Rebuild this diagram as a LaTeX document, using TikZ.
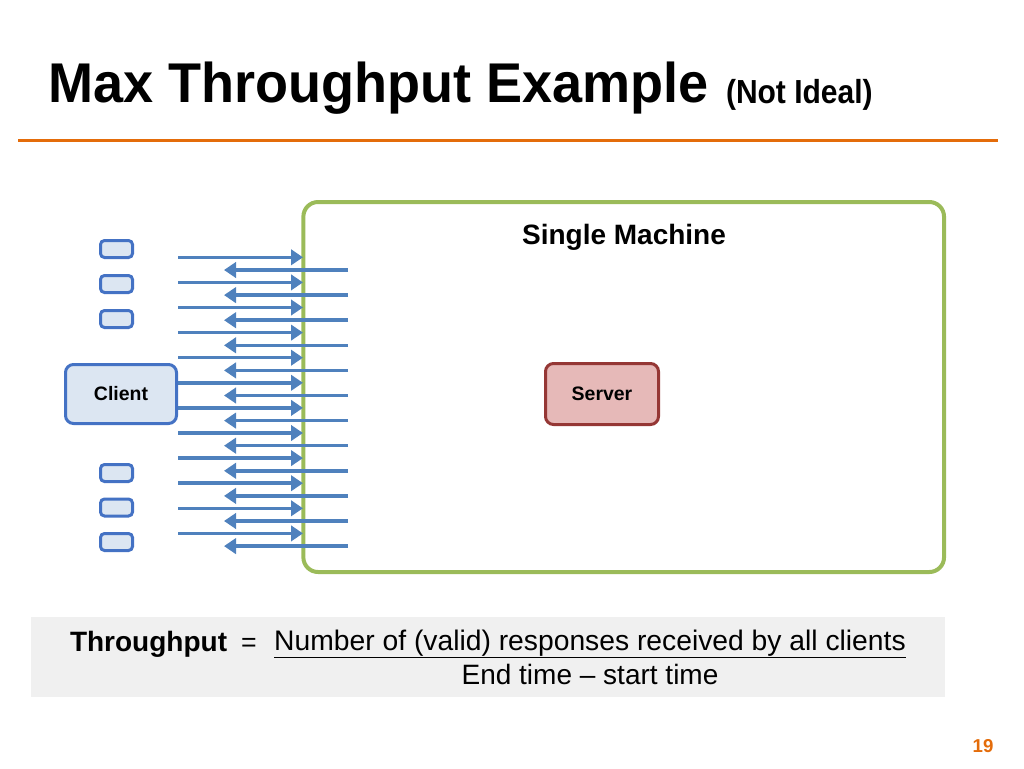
\documentclass[tikz,border=0pt]{standalone}
\usepackage{fontspec}
\setmainfont{Liberation Sans}
\usetikzlibrary{arrows.meta}
\definecolor{orangeline}{RGB}{228,108,10}
\definecolor{arrowblue}{RGB}{79,129,189}
\definecolor{boxblue}{RGB}{68,114,196}
\definecolor{boxfill}{RGB}{220,230,242}
\definecolor{machgreen}{RGB}{155,187,89}
\definecolor{srvfill}{RGB}{230,185,184}
\definecolor{srvborder}{RGB}{149,55,53}
\definecolor{panelgray}{RGB}{240,240,240}
\begin{document}
\begin{tikzpicture}[x=0.75pt,y=-0.75pt,
  reqarrow/.style={draw=arrowblue, line width=2.6pt, -{Triangle[length=9pt,width=11.5pt]}},
  machine/.style={draw=machgreen, line width=3pt, rounded corners=11pt, minimum width=480.5pt, minimum height=277.5pt, inner sep=0pt},
  clientbox/.style={draw=boxblue, fill=boxfill, line width=2.25pt, rounded corners=6pt, minimum width=83.25pt, minimum height=44.25pt, inner sep=0pt, font=\fontsize{14.6pt}{17pt}\selectfont\bfseries},
  serverbox/.style={draw=srvborder, fill=srvfill, line width=2.25pt, rounded corners=6pt, minimum width=84.75pt, minimum height=45.75pt, inner sep=0pt, font=\fontsize{14.6pt}{17pt}\selectfont\bfseries},
  minibox/.style={draw=boxblue, fill=boxfill, line width=2.25pt, rounded corners=3pt, minimum width=24pt, minimum height=12.75pt, inner sep=0pt},
  txt/.style={inner sep=0pt, outer sep=0pt},
  panel/.style={fill=panelgray, inner sep=0pt, minimum width=685.5pt, minimum height=60pt}
]
\useasboundingbox (0,0) rectangle (1024,768);

% title
\node[txt, anchor=base west] (title) at (48,102)
  {\scalebox{0.965}[1]{\fontsize{42pt}{48pt}\selectfont\bfseries Max Throughput Example}};
\node[txt, anchor=base west] (subtitle) at (726,103)
  {\scalebox{0.9}[1]{\fontsize{25pt}{29pt}\selectfont\bfseries (Not Ideal)}};
\coordinate (rulel) at (18,140);
\coordinate (ruler) at (998,140);
\draw[orangeline, line width=2.25pt] (rulel) -- (ruler);

% machine
\node[machine] (machine) at (623.7,387) {};
\node[txt, anchor=base, font=\fontsize{21pt}{25pt}\selectfont\bfseries] (machlabel) at (624,244) {Single Machine};

% arrows
\foreach \i in {0,...,11} {
  \coordinate (rs\i) at (178,257.3+25.1*\i);
  \coordinate (re\i) at (303,257.3+25.1*\i);
  \coordinate (ls\i) at (348,270+25.1*\i);
  \coordinate (le\i) at (224,270+25.1*\i);
  \draw[reqarrow] (rs\i) -- (re\i);
  \draw[reqarrow] (ls\i) -- (le\i);
}

% client and server
\node[clientbox] (client) at (121,394) {Client};
\node[serverbox] (server) at (602,394) {Server};

% small client boxes
\node[minibox] (c1) at (116.5,249) {};
\node[minibox] (c2) at (116.5,284) {};
\node[minibox] (c3) at (116.5,319) {};
\node[minibox] (c4) at (116.5,473) {};
\node[minibox] (c5) at (116.5,507.5) {};
\node[minibox] (c6) at (116.5,542) {};

% formula panel
\node[panel] (panel) at (488,657) {};
\node[txt, anchor=base west, font=\fontsize{21pt}{25pt}\selectfont\bfseries] (tp) at (70,651) {Throughput};
\node[txt, anchor=base, font=\fontsize{20pt}{24pt}\selectfont] (eq) at (249,651) {=};
\node[txt, anchor=base, font=\fontsize{21.2pt}{25pt}\selectfont] (num) at (590,650) {\underline{Number of (valid) responses received by all clients}};
\node[txt, anchor=base, font=\fontsize{21pt}{25pt}\selectfont] (den) at (590,684) {End time – start time};

% page number
\node[txt, font=\fontsize{14pt}{16pt}\selectfont\bfseries, text=orangeline] (page) at (983,746) {19};
\end{tikzpicture}
\end{document}
